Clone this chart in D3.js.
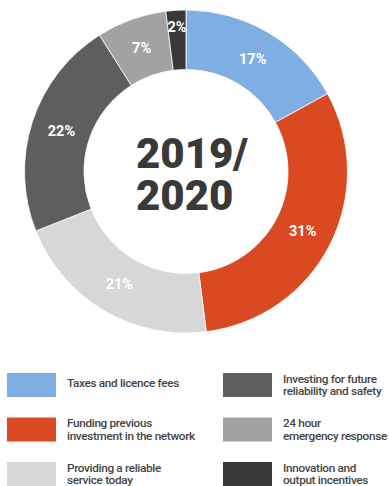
<!DOCTYPE html>
<html>
<head>
<meta charset="utf-8">
<script src="https://cdn.jsdelivr.net/npm/d3@7"></script>
<style>
  html, body { margin: 0; padding: 0; background: #fff; }
  svg { display: block; }
</style>
</head>
<body>
<svg id="chart" width="389" height="486"></svg>
<script>
// Revenue breakdown, 2019/2020
const categories = [
  "Taxes and licence fees",
  "Funding previous investment in the network",
  "Providing a reliable service today",
  "Investing for future reliability and safety",
  "24 hour emergency response",
  "Innovation and output incentives"
];
const shares = [17, 31, 21, 22, 7, 2];
const colors = ["#7fafe2", "#da4a22", "#d7d7d7", "#5e5e5e", "#a2a2a2", "#393939"];
// Legend lines as they wrap
const legendLines = [
  ["Taxes and licence fees"],
  ["Funding previous", "investment in the network"],
  ["Providing a reliable", "service today"],
  ["Investing for future", "reliability and safety"],
  ["24 hour", "emergency response"],
  ["Innovation and", "output incentives"]
];
const centerLines = ["2019/", "2020"];

const svg = d3.select("#chart");
const cx = 186, cy = 171.5, rOuter = 161.5, rInner = 102;

const pie = d3.pie().sort(null).value(d => d)(shares);
const arc = d3.arc().innerRadius(rInner).outerRadius(rOuter);

const g = svg.append("g").attr("transform", `translate(${cx},${cy})`);

g.selectAll("path.slice")
  .data(pie)
  .join("path")
  .attr("class", "slice")
  .attr("d", arc)
  .attr("fill", (d, i) => colors[i])
  .attr("stroke", "#fff")
  .attr("stroke-width", 0.8);

g.selectAll("text.pct")
  .data(pie)
  .join("text")
  .attr("class", "pct")
  .attr("transform", d => {
    // the thin last slice carries its label out near the rim
    const a = (d.startAngle + d.endAngle) / 2;
    const r = d.data < 5 ? 145 : 131;
    return `translate(${Math.sin(a) * r},${-Math.cos(a) * r})`;
  })
  .attr("text-anchor", "middle")
  .attr("dy", "0.36em")
  .attr("fill", "#fff")
  .attr("font-family", "Roboto, sans-serif")
  .attr("font-weight", 700)
  .attr("font-size", 14.5)
  .text(d => d.data + "%");

// Year in the hole
const year = g.append("text")
  .attr("fill", "#393939")
  .attr("font-family", "Roboto, sans-serif")
  .attr("font-weight", 900)
  .attr("font-size", 42);
year.selectAll("tspan")
  .data(centerLines)
  .join("tspan")
  .attr("x", -50)
  .attr("y", (d, i) => -3.5 + i * 42)
  .text(d => d);

// Legend: two columns, three rows
const legend = svg.append("g");
const colX = [7, 223];
const rowY = [373, 417.5, 462];
const items = legend.selectAll("g.item")
  .data(categories)
  .join("g")
  .attr("class", "item")
  .attr("transform", (d, i) => `translate(${colX[Math.floor(i / 3)]},${rowY[i % 3]})`);

items.append("rect")
  .attr("width", 49)
  .attr("height", 24)
  .attr("fill", (d, i) => colors[i]);

items.each(function (d, i) {
  const lines = legendLines[i];
  const t = d3.select(this).append("text")
    .attr("fill", "#454545")
    .attr("font-family", "Roboto, sans-serif")
    .attr("font-weight", 500)
    .attr("font-size", 11.8)
    .attr("letter-spacing", -0.35);
  const base = lines.length === 1 ? 14 : 9.5;
  lines.forEach((ln, k) => {
    t.append("tspan").attr("x", 60).attr("y", base + k * 12.5).text(ln);
  });
});
</script>
</body>
</html>
